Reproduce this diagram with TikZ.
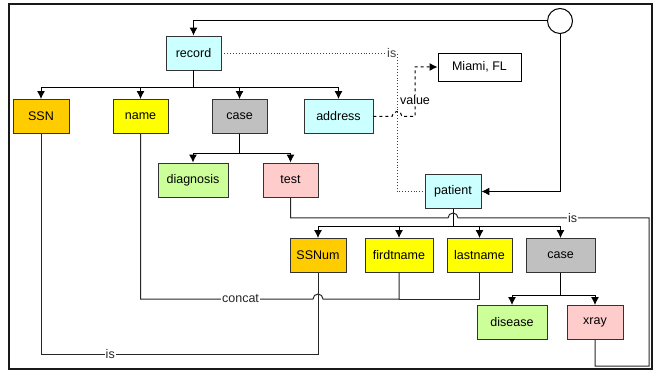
\documentclass[tikz,border=0pt]{standalone}
\usepackage{fontspec}
\setmainfont{Liberation Sans}
\usepackage{xcolor}
\usetikzlibrary{arrows.meta}
\tikzset{>={Latex[length=8pt,width=8pt]}}
\definecolor{c1}{HTML}{CCFFFF}
\definecolor{o1}{HTML}{FFCC00}
\definecolor{y1}{HTML}{FFFF00}
\definecolor{g1}{HTML}{C0C0C0}
\definecolor{l1}{HTML}{CCFF99}
\definecolor{p1}{HTML}{FFCCCC}
\tikzstyle{box}=[draw=black!80,line width=0.9pt,minimum height=34pt,inner sep=0pt,font=\fontsize{12.5}{14}\selectfont]
\tikzstyle{lbl}=[fill=white,inner sep=1pt,font=\fontsize{12.5}{14}\selectfont]
\tikzstyle{link}=[line width=1pt]

\begin{document}
\begin{tikzpicture}[x=1pt,y=-1pt]
  \useasboundingbox (0,0) rectangle (655,371);
  \draw[line width=1.8pt,black!90] (9,4) rectangle (652,369);
  % boxes
  \node[box,fill=c1,minimum width=55pt] (record) at (193.5,53) {record};
  \node[box,fill=o1,minimum width=56pt] (SSN) at (41,116.5) {SSN};
  \node[box,fill=y1,minimum width=55pt] (name) at (140.5,116.5) {name};
  \node[box,fill=g1,minimum width=55pt] (case) at (239.5,116.5) {case};
  \node[box,fill=c1,minimum width=69pt] (address) at (338.5,116.5) {address};
  \node[box,fill=l1,minimum width=70pt] (diagnosis) at (193,180) {diagnosis};
  \node[box,fill=p1,minimum width=55pt] (test) at (290.5,180) {test};
  \node[box,draw=black,minimum width=83pt,minimum height=28pt] (miami) at (479.5,67) {Miami, FL};
  \node[draw=black,line width=1pt,circle,minimum size=25pt,inner sep=0pt] (root) at (560,21) {};
  \node[box,fill=c1,minimum width=56pt] (patient) at (453,191.5) {patient};
  \node[box,fill=o1,minimum width=56pt] (SSNum) at (318,255.5) {SSNum};
  \node[box,fill=y1,minimum width=68pt] (first) at (399,255.5) {firdtname};
  \node[box,fill=y1,minimum width=65pt] (last) at (479.5,255.5) {lastname};
  \node[box,fill=g1,minimum width=69pt] (case2) at (560.5,255.5) {case};
  \node[box,fill=l1,minimum width=70pt] (disease) at (512,322.5) {disease};
  \node[box,fill=p1,minimum width=56pt] (xray) at (595,322.5) {xray};
  % trees
  \foreach \kid in {SSN,name,case,address}
    \draw[link,->] (record.south) -- ++(0,17) -| (\kid.north);
  \foreach \kid in {diagnosis,test}
    \draw[link,->] (case.south) -- ++(0,20) -| (\kid.north);
  \foreach \kid in {SSNum,first,last,case2}
    \draw[link,->] (patient.south) -- ++(0,18) -| (\kid.north);
  \foreach \kid in {disease,xray}
    \draw[link,->] (case2.south) -- ++(0,23) -| (\kid.north);
  \draw[link,->] (root.west) -| (record.north);
  \draw[link,->] (root.south) |- (patient.east);
  % is / value
  \draw[black!75,dotted,line width=0.9pt] (record.east) -- node[lbl,pos=0.97] {is} (397,53) -- (397,191.5) -- (patient.west);
  \draw[link,dashed,->] (address.east) -- (392,116.5) arc[start angle=180,end angle=0,radius=5pt]
    -- (415,116.5) -- node[lbl,pos=0.33] {value} (415,67) -- (miami.west);
  \draw[link,black!85] (test.south) -- (290.5,218) -- (448,218) arc[start angle=180,end angle=0,radius=5pt]
    -- node[lbl,pos=0.6] {is} (649,218) -- (649,366) -- (595,366) -- (xray.south);
  \draw[link,black!85] (name.south) -- (140.5,299) -- node[lbl,pos=0.58] {concat} (313,299)
    arc[start angle=180,end angle=0,radius=5pt] -- (399,299) -- (first.south);
  \draw[link,black!85] (last.south) -- (479.5,299) -- (399,299);
  \draw[link,black!85] (SSN.south) -- (41,354) -- node[lbl,pos=0.25] {is} (318,354) -- (SSNum.south);
\end{tikzpicture}
\end{document}
